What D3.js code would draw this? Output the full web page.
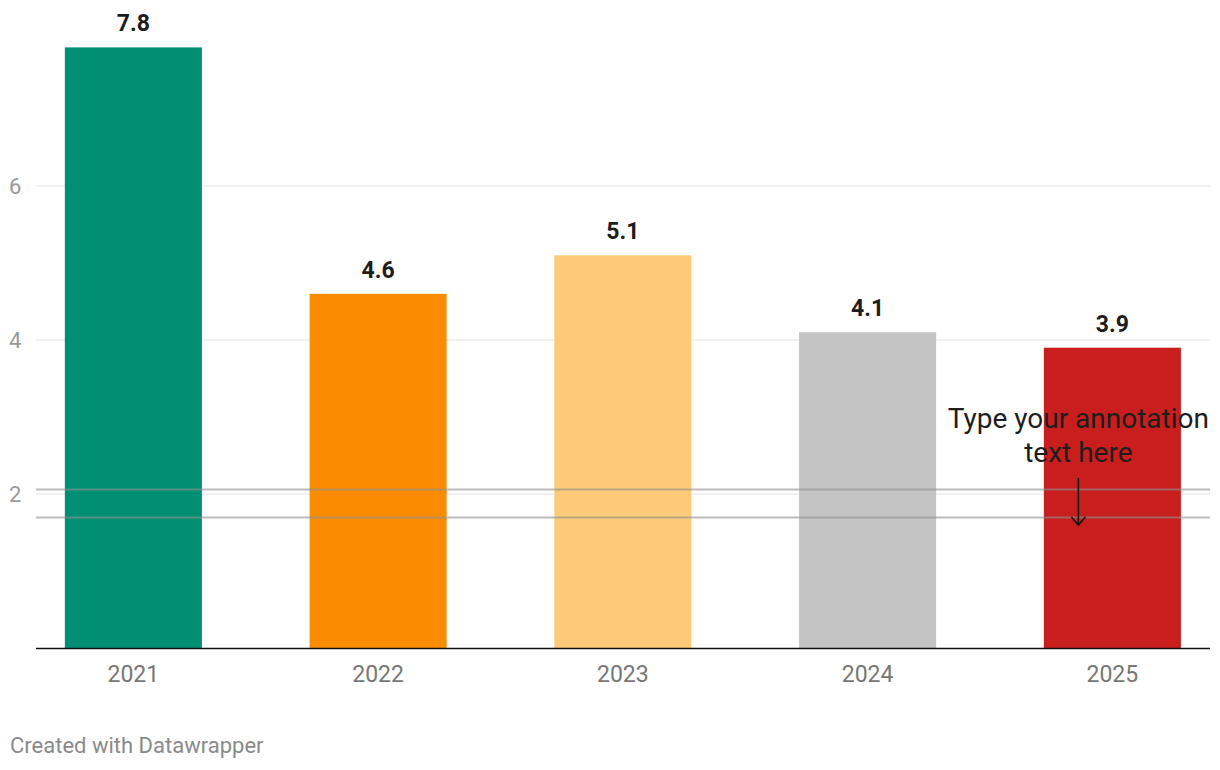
<!DOCTYPE html>
<html><head><meta charset="utf-8">
<script src="https://cdn.jsdelivr.net/npm/d3@7"></script>
<style>body{margin:0;background:#fff;font-family:Roboto,sans-serif}</style>
</head><body><svg id="c" width="1220" height="770"></svg>
<script>
const categories = ["2021","2022","2023","2024","2025"];
const values = [7.8, 4.6, 5.1, 4.1, 3.9];
const colors = ["#008f73","#f98c00","#fdca79","#c4c4c4","#c91e1e"];
const yTicks = [2, 4, 6];
const refLines = [2.065, 1.70];
const annotationLines = ["Type your annotation","text here"];
const footer = "Created with Datawrapper";

const svg = d3.select("#c");
const y = d3.scaleLinear().domain([0, 1]).range([648, 571]);
const x = d3.scaleBand().domain(categories).range([11, 1234.75]).paddingInner(0.44).paddingOuter(0.22);
const gx0 = 36, gx1 = 1210;

// gridlines
svg.append("g").selectAll("line").data(yTicks).join("line")
  .attr("x1", gx0).attr("x2", gx1).attr("y1", d=>y(d)).attr("y2", d=>y(d))
  .attr("stroke", "#e3e3e3").attr("stroke-width", 1);
svg.append("g").selectAll("text").data(yTicks).join("text")
  .attr("x", 9).attr("y", d=>y(d)+8).text(d=>d)
  .attr("font-size", 22).attr("fill", "#9a9a9a");

// bars
svg.append("g").selectAll("rect").data(values).join("rect")
  .attr("x", (d,i)=>x(categories[i])).attr("width", x.bandwidth())
  .attr("y", d=>y(d)).attr("height", d=>y(0)-y(d))
  .attr("fill", (d,i)=>colors[i]);

// value labels
svg.append("g").selectAll("text").data(values).join("text")
  .attr("x", (d,i)=>x(categories[i])+x.bandwidth()/2).attr("y", d=>y(d)-16)
  .attr("text-anchor","middle").attr("font-size", 23).attr("font-weight", 700)
  .attr("fill", "#1d1d1d").text(d=>d.toFixed(1));

// reference lines
svg.append("g").selectAll("line").data(refLines).join("line")
  .attr("x1", gx0).attr("x2", gx1).attr("y1", d=>Math.round(y(d))+0.5).attr("y2", d=>Math.round(y(d))+0.5)
  .attr("stroke", "#8f8f8f").attr("stroke-opacity", 0.6).attr("stroke-width", 2);

// baseline
svg.append("line").attr("x1", gx0).attr("x2", gx1).attr("y1", y(0)+0.5).attr("y2", y(0)+0.5)
  .attr("stroke", "#111").attr("stroke-width", 1.5);

// x labels
svg.append("g").selectAll("text").data(categories).join("text")
  .attr("x", d=>x(d)+x.bandwidth()/2).attr("y", 682).attr("text-anchor","middle")
  .attr("font-size", 23).attr("fill", "#777").text(d=>d);

// annotation
const ax = x("2025")+x.bandwidth()/2 - 34;
svg.append("g").selectAll("text").data(annotationLines).join("text")
  .attr("x", ax).attr("y", (d,i)=>428+i*34).attr("text-anchor","middle")
  .attr("font-size", 28).attr("fill", "#1d1d1d").text(d=>d);
svg.append("line").attr("x1", ax).attr("x2", ax).attr("y1", 478).attr("y2", 525)
  .attr("stroke", "#111").attr("stroke-width", 1.5);
svg.append("path").attr("d", `M${ax-7},${517} L${ax},${525} L${ax+7},${517}`)
  .attr("fill","none").attr("stroke", "#111").attr("stroke-width", 1.5);

// footer
svg.append("text").attr("x", 10).attr("y", 753).attr("font-size", 22)
  .attr("fill", "#8a8a8a").text(footer);
</script></body></html>
